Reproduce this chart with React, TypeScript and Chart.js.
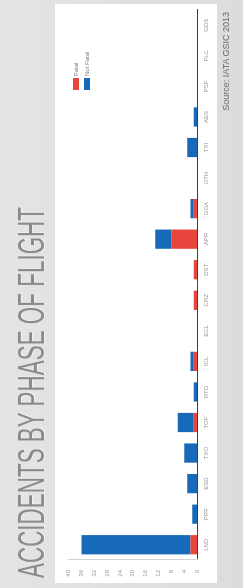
import React, { useEffect, useLayoutEffect, useRef } from "react";
import { Chart, registerables } from "chart.js";

Chart.register(...registerables);

const categories = ["LND", "PRF", "ESD", "TXO", "TOF", "RTO", "ICL", "ECL", "CRZ", "DST", "APR", "GOA", "OTH", "TXI", "AES", "PSF", "FLC", "GDS"];
const fatal = [2, 0, 0, 0, 1, 0, 1, 0, 1, 1, 8, 1, 0, 0, 0, 0, 0, 0];
const notFatal = [34, 1.5, 3, 4, 5, 1, 1, 0, 0, 0, 5, 1, 0, 3, 1, 0, 0, 0];
const seriesNames = ["Fatal", "Not Fatal"];
const valueMax = 40;
const valueStep = 4;
const titleText = "ACCIDENTS BY PHASE OF FLIGHT";
const sourceText = "Source: IATA GSIC 2013";

const RED = "#e8453c";
const BLUE = "#1769b9";
const FONT = '"Liberation Sans", Arial, sans-serif';

const legendPlugin = {
  id: "cornerLegend",
  afterDraw(chart: any) {
    const ctx = chart.ctx;
    ctx.save();
    chart.data.datasets.forEach((ds: any, i: number) => {
      const x = 493;
      const y = 18 + i * 11;
      ctx.fillStyle = ds.backgroundColor;
      ctx.fillRect(x, y, 12, 6);
      ctx.fillStyle = "#808080";
      ctx.font = "6px " + FONT;
      ctx.textBaseline = "middle";
      ctx.textAlign = "left";
      ctx.fillText(ds.label, x + 14, y + 3);
    });
    ctx.restore();
  },
};

export default function App() {
  const canvasRef = useRef<HTMLCanvasElement>(null);
  const titleRef = useRef<HTMLDivElement>(null);

  useLayoutEffect(() => {
    const el = titleRef.current;
    if (el) {
      const w = el.scrollWidth;
      if (w > 0) el.style.transform = `scaleX(${371 / w})`;
    }
  }, []);

  useEffect(() => {
    const chart = new Chart(canvasRef.current!, {
      type: "bar",
      data: {
        labels: categories,
        datasets: [
          { label: seriesNames[0], data: fatal, backgroundColor: RED },
          { label: seriesNames[1], data: notFatal, backgroundColor: BLUE },
        ],
      },
      options: {
        animation: false,
        responsive: false,
        maintainAspectRatio: false,
        layout: { padding: { top: 8, right: 6, left: 0, bottom: 0 } },
        datasets: { bar: { categoryPercentage: 1, barPercentage: 0.63 } } as any,
        plugins: {
          legend: { display: false },
          tooltip: { enabled: false },
          title: { display: false },
        },
        scales: {
          x: {
            stacked: true,
            grid: { display: false, drawTicks: false },
            border: { display: true, color: "#2f3f63", width: 1 },
            ticks: {
              font: { size: 6, family: FONT },
              color: "#9a9a9a",
              padding: 6,
              maxRotation: 0,
              minRotation: 0,
              autoSkip: false,
            },
            afterFit: (s: any) => {
              s.height = 20;
            },
          },
          y: {
            stacked: true,
            min: 0,
            max: valueMax,
            grid: { display: false, drawTicks: false },
            border: { display: true, color: "#d2d2d2", width: 1 },
            ticks: {
              stepSize: valueStep,
              font: { size: 6, family: FONT },
              color: "#9a9a9a",
              padding: 10,
            },
            afterFit: (s: any) => {
              s.width = 23;
            },
          },
        },
      },
      plugins: [legendPlugin],
    });
    return () => chart.destroy();
  }, []);

  return (
    <div
      style={{
        position: "fixed",
        left: 0,
        top: 0,
        width: 588,
        height: 243,
        overflow: "hidden",
        background: "linear-gradient(180deg, #e4e4e4 0%, #dcdcdc 100%)",
        transformOrigin: "0 0",
        transform: "rotate(-90deg) translateX(-588px)",
      }}
    >
      <div
        ref={titleRef}
        style={{
          position: "absolute",
          left: 10,
          top: 13,
          fontFamily: '"Liberation Sans Narrow", "Liberation Sans", Arial, sans-serif',
          fontSize: 37,
          lineHeight: "37px",
          color: "#8a8a8a",
          whiteSpace: "nowrap",
          transformOrigin: "0 0",
          textShadow: "1px 1px 1px #f2f2f2",
        }}
      >
        {titleText}
      </div>
      <div
        style={{
          position: "absolute",
          left: 5,
          top: 55,
          width: 579,
          height: 162,
          background: "#ffffff",
        }}
      >
        <canvas ref={canvasRef} width={579} height={162} style={{ display: "block" }} />
      </div>
      <div
        style={{
          position: "absolute",
          right: 12,
          top: 222,
          fontFamily: FONT,
          fontSize: 9,
          lineHeight: "9px",
          color: "#6a6a6a",
          whiteSpace: "nowrap",
        }}
      >
        {sourceText}
      </div>
    </div>
  );
}
